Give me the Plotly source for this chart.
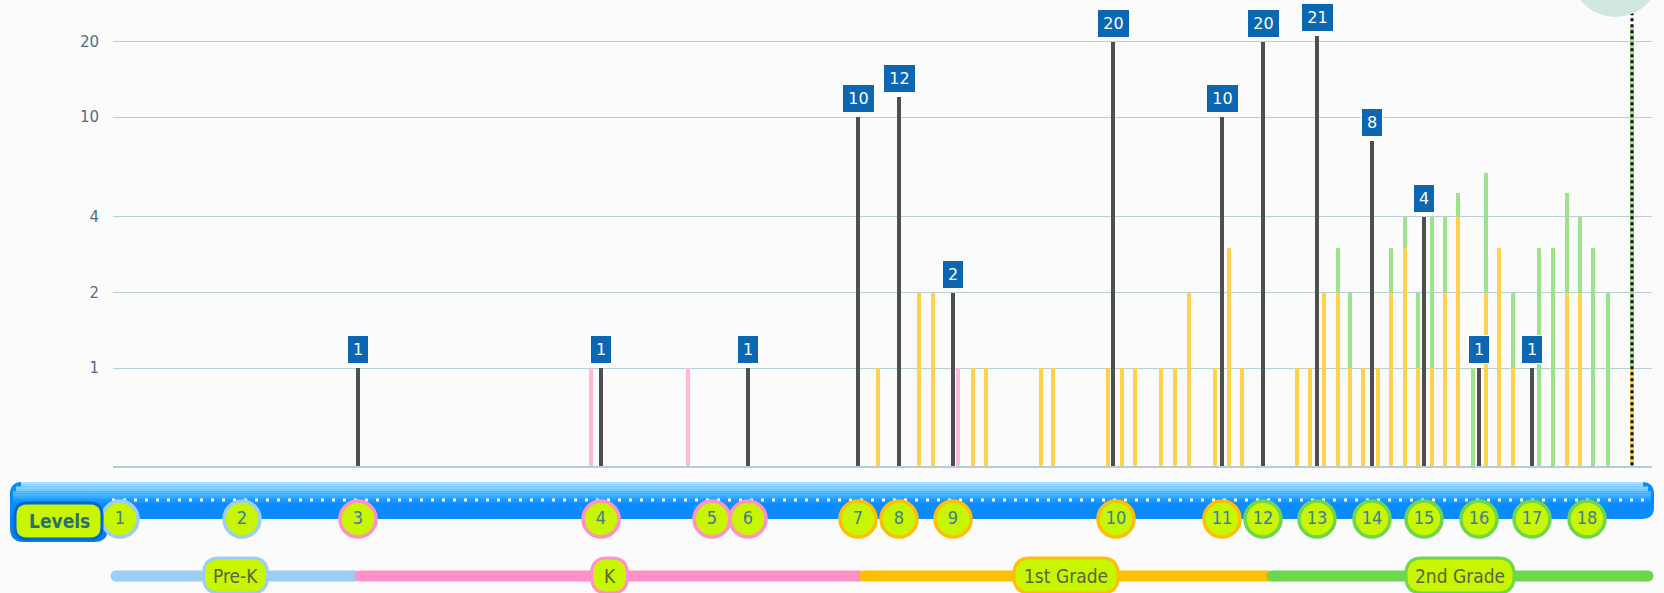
import math
import plotly.graph_objects as go

# ---------------- data ----------------
level_labels = [str(i) for i in range(1, 19)]
level_x = [7, 129, 245, 488, 599, 635, 745, 786, 840, 1003, 1109, 1150, 1204, 1259, 1311, 1366, 1419, 1474]
level_grade = ["Pre-K", "Pre-K", "K", "K", "K", "K",
               "1st Grade", "1st Grade", "1st Grade", "1st Grade", "1st Grade",
               "2nd Grade", "2nd Grade", "2nd Grade", "2nd Grade", "2nd Grade", "2nd Grade", "2nd Grade"]

black_x = [245, 488, 635, 745, 786, 840, 1000, 1109, 1150, 1204, 1259, 1311, 1366, 1419]
black_v = [1, 1, 1, 10, 12, 2, 20, 10, 20, 21, 8, 4, 1, 1]

pink_x = [478, 575, 845]
pink_v = [1, 1, 1]

stack_x = [765, 806, 820, 860, 873, 928, 940, 995, 1009, 1022, 1048, 1062, 1076, 1102, 1116, 1129,
           1184, 1197, 1211, 1225, 1237, 1250, 1265, 1278, 1292, 1305, 1319, 1332, 1345, 1360,
           1373, 1386, 1400, 1426, 1440, 1454, 1467, 1480, 1495, 1519]
yellow_v = [1, 2, 2, 1, 1, 1, 1, 1, 1, 1, 1, 1, 2, 1, 3, 1,
            1, 1, 2, 2, 1, 1, 1, 2, 3, 1, 1, 2, 4, 0,
            2, 3, 1, 0, 0, 2, 2, 0, 0, 1]
green_v = [0, 0, 0, 0, 0, 0, 0, 0, 0, 0, 0, 0, 0, 0, 0, 0,
           0, 0, 0, 1, 1, 0, 0, 1, 1, 1, 3, 2, 1, 1,
           4, 0, 1, 3, 3, 3, 2, 3, 2, 22]

current_x = 1519
current_top = 27

grade_names = ["Pre-K", "K", "1st Grade", "2nd Grade"]
grade_start = [3, 247, 751, 1159]
grade_end = [242, 746, 1155, 1535]
grade_pill_w = [64, 36, 104, 108]
grade_colors = {"Pre-K": "#9ccdf5", "K": "#ff90c8", "1st Grade": "#ffbf00", "2nd Grade": "#6cd64c"}

y_ticks = [1, 2, 4, 10, 20]

# ---------------- geometry ----------------
W, H = 1664, 593
L, R = 113, 12
PLOT_W = W - L - R
X_RANGE = [0, PLOT_W]
BASE_PY = 466
y_split = (H - BASE_PY) / H

def PX(px):
    return (px - L) / PLOT_W

def PY(py):
    return (H - py) / H

def rrect(x0, y0, x1, y1, r):
    p = [
        f"M{PX(x0 + r)},{PY(y0)}", f"L{PX(x1 - r)},{PY(y0)}",
        f"Q{PX(x1)},{PY(y0)} {PX(x1)},{PY(y0 + r)}", f"L{PX(x1)},{PY(y1 - r)}",
        f"Q{PX(x1)},{PY(y1)} {PX(x1 - r)},{PY(y1)}", f"L{PX(x0 + r)},{PY(y1)}",
        f"Q{PX(x0)},{PY(y1)} {PX(x0)},{PY(y1 - r)}", f"L{PX(x0)},{PY(y0 + r)}",
        f"Q{PX(x0)},{PY(y0)} {PX(x0 + r)},{PY(y0)}", "Z",
    ]
    return " ".join(p)

COND = "DejaVu Sans Condensed, Liberation Sans Narrow, sans-serif"
LIME = "#c8f500"

fig = go.Figure()

# bars
fig.add_trace(go.Bar(x=black_x, y=black_v, width=4, marker=dict(color="#4e4e4e", line=dict(width=0)),
                     hoverinfo="skip"))
fig.add_trace(go.Bar(x=pink_x, y=pink_v, width=4, marker=dict(color="#ffb8dc", line=dict(width=0)),
                     hoverinfo="skip"))
fig.add_trace(go.Bar(x=stack_x, y=[v if v else None for v in yellow_v], width=4,
                     marker=dict(color="#ffd24a", line=dict(width=0)), hoverinfo="skip"))
fig.add_trace(go.Bar(x=stack_x, y=[v if v else None for v in green_v], width=4,
                     marker=dict(color="#9ce38c", line=dict(width=0)), hoverinfo="skip"))

# current marker dotted line
fig.add_trace(go.Scatter(x=[current_x, current_x], y=[0.41, current_top], mode="lines",
                         line=dict(color="#111111", width=3, dash="dot"), hoverinfo="skip"))

# grade bars on lower axis
for g, s, e in zip(grade_names, grade_start, grade_end):
    fig.add_trace(go.Scatter(x=[s, e], y=[17, 17], yaxis="y2", mode="lines+markers",
                             line=dict(color=grade_colors[g], width=11),
                             marker=dict(size=11, color=grade_colors[g]),
                             cliponaxis=False, hoverinfo="skip"))

# level circles
fig.add_trace(go.Scatter(
    x=level_x, y=[74] * len(level_x), yaxis="y2", mode="markers+text",
    text=level_labels, textposition="middle center",
    textfont=dict(family=COND, size=18, color="#3f8090"),
    marker=dict(size=36, color=LIME, line=dict(width=3.5, color=[grade_colors[g] for g in level_grade])),
    cliponaxis=False, hoverinfo="skip"))

shapes = []
# blue level bar with gradient-ish bands
shapes.append(dict(type="path", xref="paper", yref="paper", layer="below",
                   path=rrect(10, 482, 108, 542, 14), fillcolor="#0a7ff0", line=dict(width=0)))
shapes.append(dict(type="path", xref="paper", yref="paper", layer="below",
                   path=rrect(10, 482, 1654, 519, 12), fillcolor="#0a8cff", line=dict(width=0)))
band_cols = ["#a9e0ff", "#98d9ff", "#86d2ff", "#73c9ff", "#5fc0ff", "#4bb5ff", "#38aaff", "#269fff", "#1895ff"]
for i, c in enumerate(band_cols):
    y0 = 482 + i * 2.3
    inset = 11 if i < 2 else (6 if i < 4 else 3)
    shapes.append(dict(type="rect", xref="paper", yref="paper", layer="below",
                       x0=PX(10 + inset), x1=PX(1654 - inset), y0=PY(y0 + 2.4), y1=PY(y0),
                       fillcolor=c, line=dict(width=0)))
shapes.append(dict(type="line", xref="paper", yref="paper", layer="below",
                   x0=PX(112), x1=PX(1648), y0=PY(500), y1=PY(500),
                   line=dict(color="white", width=3, dash="3px,8px")))
# Levels pill
shapes.append(dict(type="path", xref="paper", yref="paper", layer="above",
                   path=rrect(15, 503, 102, 539, 12), fillcolor=LIME,
                   line=dict(color="#0068d8", width=3)))
# grade pills
for g, s, e, w in zip(grade_names, grade_start, grade_end, grade_pill_w):
    c = L + (s + e) / 2
    shapes.append(dict(type="path", xref="paper", yref="paper", layer="above",
                       path=rrect(c - w / 2, 558, c + w / 2, 593, 16), fillcolor=LIME,
                       line=dict(color=grade_colors[g], width=3)))
# top-right circle
shapes.append(dict(type="circle", xref="paper", yref="paper", layer="above",
                   x0=PX(1571), x1=PX(1660), y0=PY(17), y1=PY(-72),
                   fillcolor="#cfe7e1", line=dict(width=0)))

annotations = []
annotations.append(dict(xref="paper", yref="paper", x=PX(59), y=PY(521), text="<b>Levels</b>",
                        xanchor="center", yanchor="middle", showarrow=False,
                        font=dict(family=COND, size=19, color="#2b6e72")))
for g, s, e in zip(grade_names, grade_start, grade_end):
    annotations.append(dict(xref="x", yref="y2", x=(s + e) / 2, y=17, text=g, showarrow=False,
                            xanchor="center", yanchor="middle",
                            font=dict(family=COND, size=19, color="#5a663a")))
for x, v in zip(black_x, black_v):
    annotations.append(dict(xref="x", yref="y", x=x, y=math.log10(v), text=str(v), showarrow=False,
                            xanchor="center", yanchor="bottom", yshift=4, bgcolor="#0b67b2",
                            bordercolor="white", borderwidth=1, borderpad=4,
                            width=23 if v >= 10 else 12,
                            font=dict(family="DejaVu Sans", size=16, color="white")))

fig.update_layout(
    width=W, height=H,
    margin=dict(l=L, r=R, t=0, b=0),
    paper_bgcolor="#fbfbfb", plot_bgcolor="rgba(0,0,0,0)",
    barmode="stack", bargap=0, showlegend=False,
    xaxis=dict(range=X_RANGE, anchor="y", showgrid=False, zeroline=False, showticklabels=False,
               showline=True, linecolor="#b5cdd6", linewidth=1.5, ticks=""),
    yaxis=dict(type="log", domain=[y_split, 1],
               range=[math.log10(0.407), math.log10(29.3)],
               tickvals=y_ticks, ticktext=[str(t) for t in y_ticks],
               showgrid=True, gridcolor="#b8cfd8", gridwidth=1.3, zeroline=False, showline=False,
               ticks="outside", ticklen=10, tickcolor="rgba(0,0,0,0)",
               tickfont=dict(family="DejaVu Sans", size=15, color="#4f6f87")),
    yaxis2=dict(domain=[0, y_split], range=[0, H - BASE_PY], anchor="x", visible=False,
                showgrid=False, zeroline=False),
    shapes=shapes, annotations=annotations,
)

fig.write_html("out.html", config={"displayModeBar": False},
               post_script="document.body.style.margin='0';document.body.style.overflow='hidden';")
